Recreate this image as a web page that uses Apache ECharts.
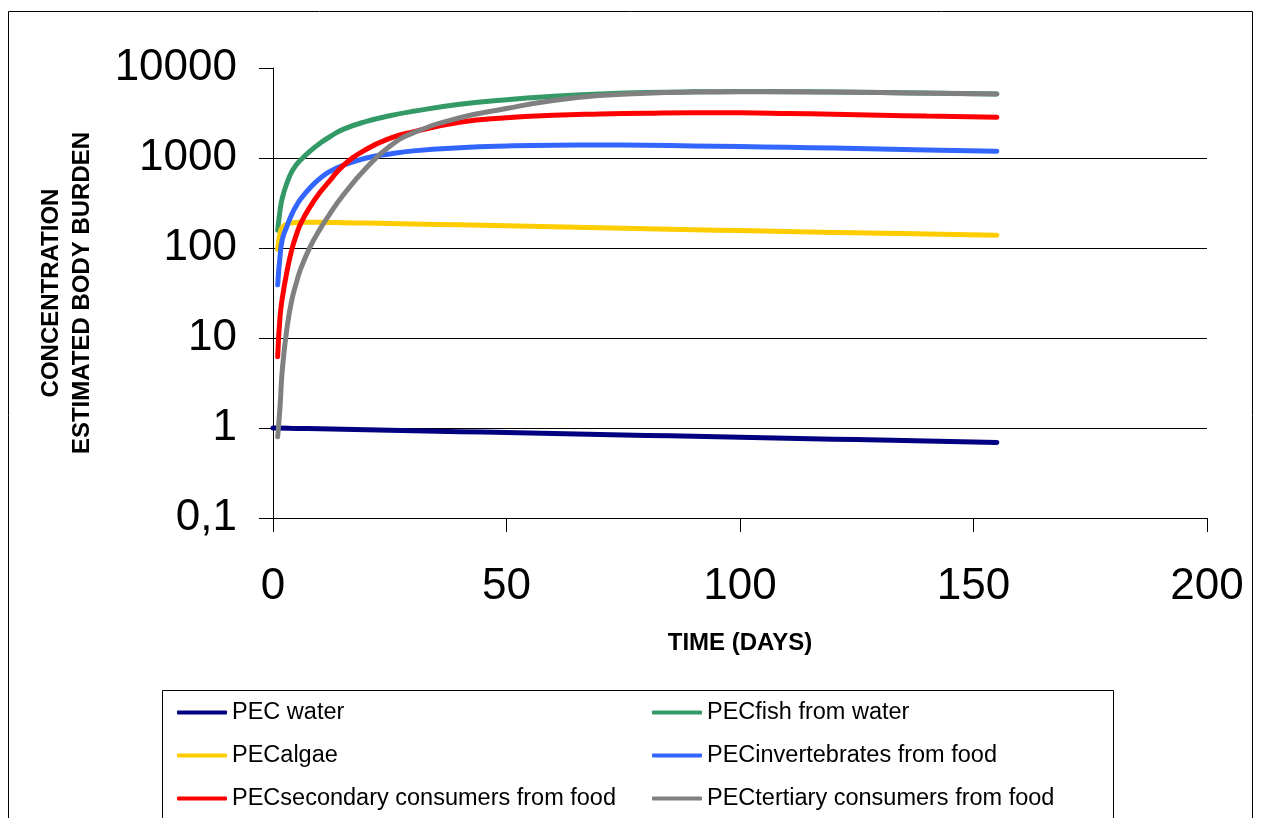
<!DOCTYPE html>
<html>
<head>
<meta charset="utf-8">
<title>PEC over time</title>
<script src="https://cdn.jsdelivr.net/npm/echarts@6/dist/echarts.min.js"></script>
<style>
  html, body { margin: 0; padding: 0; background: #fff; }
  #chart { width: 1263px; height: 818px; }
</style>
</head>
<body>
<div id="chart"></div>
<script>
// Sampling days (time since application)
const days = [1, 1.5, 2, 3, 4, 5, 6, 8, 10, 12, 15, 20, 25, 30, 40, 50, 60, 70, 80, 90, 100, 110, 120, 130, 140, 155];
const waterDays = [0, 1, 5, 10, 20, 30, 40, 50, 60, 70, 80, 90, 100, 110, 120, 130, 140, 155];

// Concentrations / estimated body burdens
const pecWater = [1.0, 1.0, 0.99, 0.979, 0.955, 0.933, 0.911, 0.889, 0.868, 0.848, 0.828, 0.808, 0.789, 0.77, 0.752, 0.734, 0.717, 0.692];
const pecFish = [158, 260, 360, 530, 700, 840, 960, 1200, 1450, 1700, 2080, 2550, 2950, 3300, 3950, 4450, 4850, 5150, 5330, 5430, 5470, 5460, 5420, 5350, 5270, 5140];
const pecAlgae = [97, 145, 170, 185, 190, 192, 193, 193, 193, 192, 191, 189, 187, 185, 181, 177, 172, 168, 164, 160, 156, 153, 149, 146, 143, 139];
const pecInvert = [39, 80, 125, 175, 235, 295, 355, 470, 590, 700, 830, 1000, 1110, 1200, 1300, 1360, 1390, 1395, 1385, 1360, 1340, 1315, 1290, 1260, 1230, 1190];
const pecSecondary = [6.2, 17, 28, 55, 95, 140, 190, 290, 410, 545, 820, 1250, 1650, 1950, 2500, 2800, 2980, 3080, 3150, 3190, 3180, 3130, 3060, 2990, 2920, 2830];
const pecTertiary = [0.8, 1.7, 4.5, 13, 26, 41, 60, 104, 160, 232, 385, 780, 1350, 1900, 2800, 3550, 4350, 4950, 5250, 5400, 5450, 5450, 5400, 5330, 5250, 5130];

const seriesNames = ['PEC water', 'PECfish from water', 'PECalgae', 'PECinvertebrates from food', 'PECsecondary consumers from food', 'PECtertiary consumers from food'];
const seriesColors = ['#000080', '#339966', '#FFCC00', '#3366FF', '#FF0000', '#808080'];

// Axis ticks
const xTicks = [0, 50, 100, 150, 200];
const yTicks = [0.1, 1, 10, 100, 1000, 10000];
const yTickText = ['0,1', '1', '10', '100', '1000', '10000'];

const FONT = '"Liberation Sans", Arial, sans-serif';

function pairs(xs, ys) { return xs.map((x, i) => [x, ys[i]]); }

const seriesData = [
  pairs(waterDays, pecWater),
  pairs(days, pecFish),
  pairs(days, pecAlgae),
  pairs(days, pecInvert),
  pairs(days, pecSecondary),
  pairs(days, pecTertiary)
];

const series = seriesData.map((d, i) => ({
  name: seriesNames[i],
  type: 'line',
  data: d,
  symbol: 'none',
  smooth: 0.5,
  lineStyle: { width: 5, color: seriesColors[i], cap: 'round', join: 'round' },
  itemStyle: { color: seriesColors[i] },
  z: 2 + i
}));

const legendBase = {
  orient: 'vertical',
  top: 700.5,
  padding: 0,
  icon: 'roundRect',
  itemWidth: 50,
  itemHeight: 4,
  itemGap: 19,
  selectedMode: false,
  textStyle: { fontSize: 23.5, lineHeight: 24, color: '#000', fontFamily: FONT }
};

const chart = echarts.init(document.getElementById('chart'), null, { renderer: 'canvas' });
chart.setOption({
  animation: false,
  backgroundColor: '#fff',
  color: seriesColors,
  grid: { left: 273, top: 68, right: 56, bottom: 300, containLabel: false },
  xAxis: {
    type: 'value',
    min: xTicks[0],
    max: xTicks[xTicks.length - 1],
    interval: 50,
    name: 'TIME (DAYS)',
    nameLocation: 'middle',
    nameGap: 113,
    nameTextStyle: { fontSize: 24, fontWeight: 'bold', color: '#000', fontFamily: FONT },
    axisLine: { show: true, lineStyle: { color: '#000', width: 1 } },
    axisTick: { show: true, inside: false, length: 14, lineStyle: { color: '#000', width: 1 } },
    axisLabel: { margin: 47, fontSize: 44, color: '#000', fontFamily: FONT },
    splitLine: { show: false }
  },
  yAxis: {
    type: 'log',
    logBase: 10,
    min: yTicks[0],
    max: yTicks[yTicks.length - 1],
    name: 'CONCENTRATION\nESTIMATED BODY BURDEN',
    nameLocation: 'middle',
    nameRotate: 90,
    nameGap: 175,
    nameTextStyle: { fontSize: 24, fontWeight: 'bold', color: '#000', fontFamily: FONT, lineHeight: 31, align: 'center' },
    axisLine: { show: true, lineStyle: { color: '#000', width: 1 } },
    axisTick: { show: true, inside: false, length: 14, lineStyle: { color: '#000', width: 1 } },
    axisLabel: {
      margin: 36,
      fontSize: 44,
      color: '#000',
      fontFamily: FONT,
      formatter: function (v) {
        const idx = yTicks.findIndex(t => Math.abs(t - v) / t < 1e-6);
        return idx >= 0 ? yTickText[idx] : '';
      }
    },
    splitLine: { show: true, showMinLine: false, showMaxLine: false, lineStyle: { color: '#000', width: 1 } }
  },
  legend: [
    Object.assign({}, legendBase, { left: 177, data: [seriesNames[0], seriesNames[2], seriesNames[4]] }),
    Object.assign({}, legendBase, { left: 652, data: [seriesNames[1], seriesNames[3], seriesNames[5]] })
  ],
  graphic: [
    {
      type: 'rect',
      shape: { x: 8.5, y: 11.5, width: 1244, height: 830 },
      style: { fill: 'none', stroke: '#000', lineWidth: 1 },
      silent: true,
      z: 0
    },
    {
      type: 'rect',
      shape: { x: 162.5, y: 690.5, width: 951, height: 160 },
      style: { fill: 'none', stroke: '#000', lineWidth: 1 },
      silent: true,
      z: 0
    }
  ],
  series: series
});
</script>
</body>
</html>
